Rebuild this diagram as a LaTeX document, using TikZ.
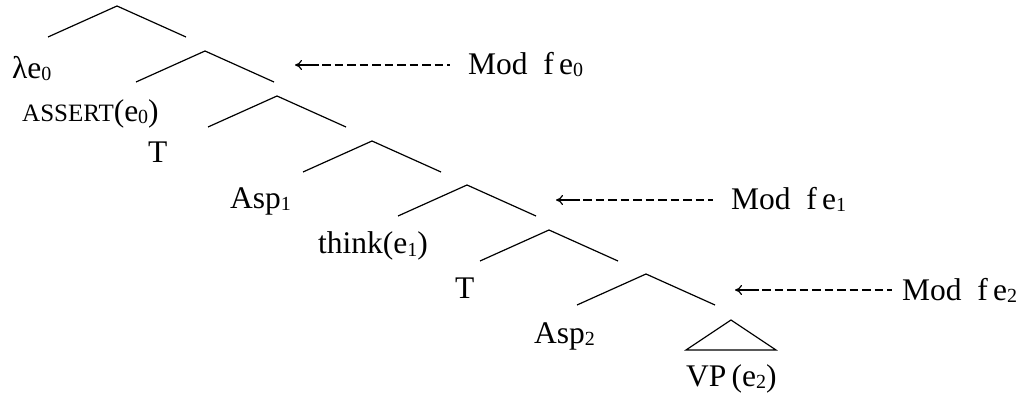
\documentclass[tikz,border=0pt]{standalone}
\usepackage{fontspec}
\setmainfont{Liberation Serif}
\usetikzlibrary{arrows.meta}
\newcommand{\lsub}[1]{\raisebox{-2pt}{\fontsize{20}{20}\selectfont #1}}
\tikzset{
  lbl/.style={anchor=base west, inner sep=0pt, font=\fontsize{31.5}{31.5}\selectfont},
  branch/.style={line width=1.2pt},
  dashline/.style={line width=2pt, dash pattern=on 8.5pt off 4pt},
  headline/.style={line width=1.2pt, -{To[length=7pt,width=10pt]}},
}
\begin{document}
\begin{tikzpicture}[x=1pt,y=-1pt]
\useasboundingbox (0,0) rectangle (1035,395);
% roofs
\foreach \n/\ax/\ay in {1/117/6, 2/205/51, 3/277/96, 4/372/141, 5/467/185, 6/549/230, 7/646/274}{
  \coordinate (a\n) at (\ax,\ay);
  \coordinate (l\n) at (\ax-69,\ay+31);
  \coordinate (r\n) at (\ax+69,\ay+31);
  \draw[branch] (l\n) -- (a\n) -- (r\n);
}
% triangle
\coordinate (ta) at (731,320);
\coordinate (tl) at (686,350);
\coordinate (tr) at (776,350);
\draw[branch] (ta) -- (tl) -- (tr) -- cycle;
% labels
\node[lbl] (lam) at (12,79) {λe\lsub{0}};
\node[lbl] (asr) at (22,122) {{\fontsize{25}{25}\selectfont ASSERT}(e\lsub{0})};
\node[lbl] (t1) at (148,163) {T};
\node[lbl] (asp1) at (230,209) {Asp\lsub{1}};
\node[lbl] (think) at (318,254) {think(e\lsub{1})};
\node[lbl] (t2) at (455,298) {T};
\node[lbl] (asp2) at (534,343) {Asp\lsub{2}};
\node[lbl] (vp) at (686,386) {VP\,(e\lsub{2})};
% Mod labels
\node[lbl] (m0) at (468,75) {Mod\ \ f\,e\lsub{0}};
\node[lbl] (m1) at (731,210) {Mod\ \ f\,e\lsub{1}};
\node[lbl] (m2) at (902,300) {Mod\ \ f\,e\lsub{2}};
% arrows
\foreach \i/\tx/\ty/\dx in {0/295/65/450, 1/556/200/713, 2/735/290/892}{
  \coordinate (tip\i) at (\tx,\ty);
  \coordinate (mid\i) at (\tx+24,\ty);
  \coordinate (ds\i) at (\tx+27,\ty);
  \coordinate (de\i) at (\dx,\ty);
  \draw[dashline] (ds\i) -- (de\i);
  \draw[headline] (mid\i) -- (tip\i);
}
\end{tikzpicture}
\end{document}
